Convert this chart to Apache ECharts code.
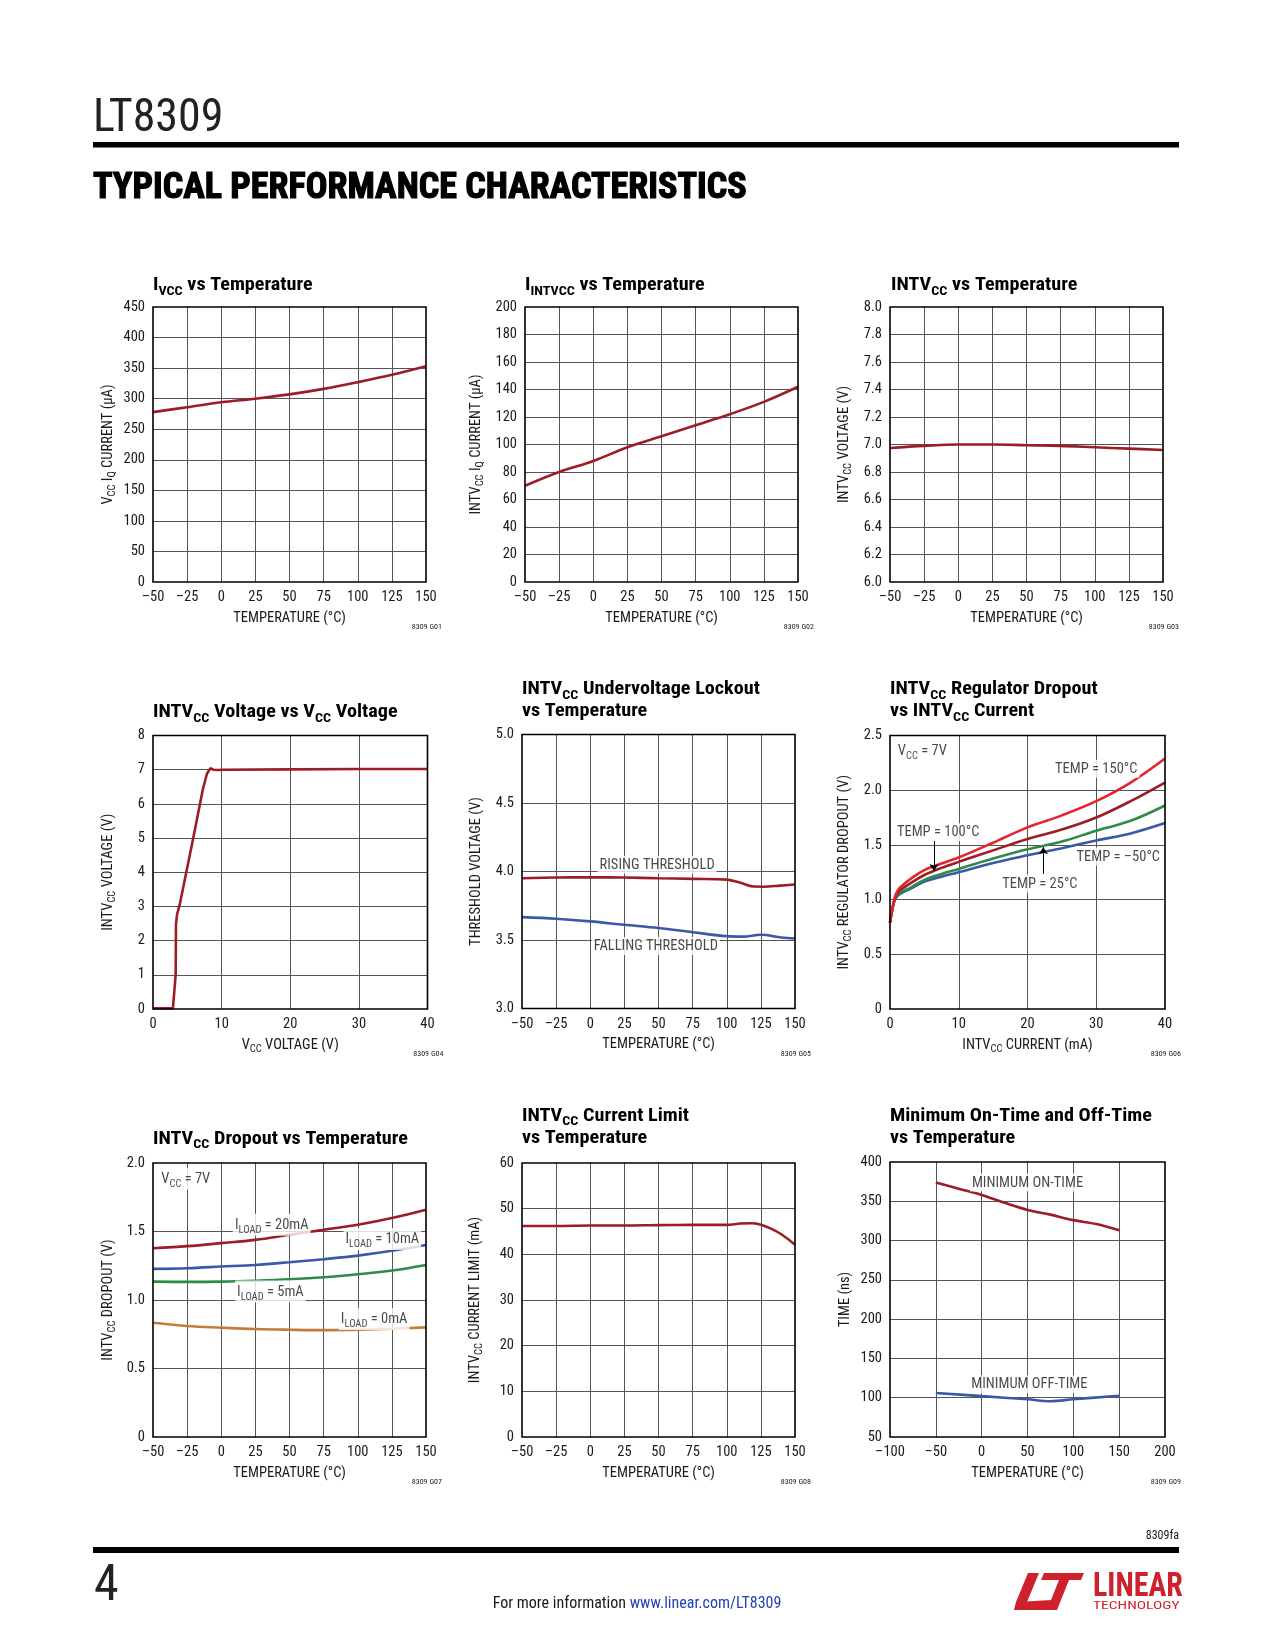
<!DOCTYPE html>
<html><head><meta charset="utf-8">
<script src="https://cdn.jsdelivr.net/npm/echarts@6/dist/echarts.min.js"></script>
<style>html,body{margin:0;padding:0;background:#fff}#c{width:1275px;height:1650px}</style>
</head><body><div id="c"></div>
<script>
// ---------------- DATA ----------------
const tempT = [-50, -25, 0, 25, 50, 75, 100, 125, 150];
const ivccUA = [278, 286, 294, 300, 307, 316, 327, 339, 353];
const iintvccUA = [70, 80, 88, 98, 106, 114, 122, 131, 142];
const intvccV = [6.975, 6.99, 7.0, 7.0, 6.995, 6.99, 6.98, 6.97, 6.96];

const vccSweepV = [0, 2.9, 3.16, 3.3, 3.35, 3.5, 3.9, 4.6, 5.58, 6.55, 7.28, 7.86, 8.35, 8.83, 9.47, 10.2, 20, 30, 40];
const intvccOutV = [0.02, 0.02, 0.07, 1.0, 2.47, 2.77, 3.06, 3.75, 4.72, 5.7, 6.44, 6.88, 7.04, 7.0, 6.99, 7.0, 7.01, 7.02, 7.02];

const uvloRiseT = [-50, -25, 0, 25, 50, 75, 100, 111, 120, 127, 139, 150];
const uvloRiseV = [3.951, 3.956, 3.958, 3.956, 3.951, 3.946, 3.941, 3.914, 3.89, 3.889, 3.897, 3.905];
const uvloFallT = [-50, -25, 0, 25, 50, 75, 100, 112, 125, 140, 150];
const uvloFallV = [3.667, 3.655, 3.636, 3.611, 3.587, 3.557, 3.528, 3.525, 3.538, 3.518, 3.511];

const loadMA = [0, 0.3, 0.7, 1.2, 2, 3, 5, 7.5, 10, 15, 20, 25, 30, 35, 40];
const dropT150 = [0.79, 0.9, 1.02, 1.09, 1.14, 1.19, 1.27, 1.33, 1.385, 1.52, 1.66, 1.77, 1.90, 2.07, 2.29];
const dropT100 = [0.79, 0.9, 1.01, 1.07, 1.11, 1.15, 1.225, 1.29, 1.345, 1.45, 1.555, 1.64, 1.75, 1.90, 2.07];
const dropT25 = [0.79, 0.9, 1.0, 1.05, 1.08, 1.11, 1.18, 1.235, 1.28, 1.375, 1.46, 1.53, 1.63, 1.72, 1.86];
const dropTm50 = [0.79, 0.9, 1.0, 1.04, 1.07, 1.10, 1.165, 1.21, 1.25, 1.335, 1.405, 1.47, 1.54, 1.605, 1.70];

const dropLoad20 = [1.378, 1.393, 1.415, 1.439, 1.476, 1.512, 1.549, 1.598, 1.659];
const dropLoad10 = [1.227, 1.232, 1.244, 1.256, 1.276, 1.298, 1.324, 1.359, 1.402];
const dropLoad5 = [1.134, 1.132, 1.134, 1.141, 1.151, 1.166, 1.188, 1.215, 1.256];
const dropLoad0 = [0.834, 0.81, 0.798, 0.788, 0.783, 0.78, 0.783, 0.79, 0.8];

const ilimT = [-50, -25, 0, 25, 50, 75, 100, 110, 118, 125, 132, 140, 150];
const ilimMA = [46.2, 46.2, 46.3, 46.3, 46.4, 46.45, 46.45, 46.75, 46.8, 46.5, 45.7, 44.4, 42.1];

const onT = [-50, -25, 0, 25, 50, 75, 100, 125, 150];
const onTimeNs = [374, 366, 358, 348, 339, 333, 326, 321, 313];
const offT = [-50, 0, 50, 75, 100, 150];
const offTimeNs = [106, 102, 98, 95.5, 98, 102.5];

// axis ranges [min, max, interval]
const axTemp = [-50, 150, 25];
const axIvcc = [0, 450, 50];
const axIintvcc = [0, 200, 20];
const axIntvcc = [6.0, 8.0, 0.2];
const axVcc = [0, 40, 10];
const axVout = [0, 8, 1];
const axUvlo = [3.0, 5.0, 0.5];
const axLoad = [0, 40, 10];
const axDrop = [0, 2.5, 0.5];
const axDropT = [0, 2.0, 0.5];
const axIlim = [0, 60, 10];
const axTempWide = [-100, 200, 50];
const axTime = [50, 400, 50];

// ---------------- STYLE ----------------
const FONT = "'Liberation Sans Narrow','Roboto Condensed','DejaVu Sans Condensed','Liberation Sans',sans-serif";
const INK = '#1a1a1a';
const C_DRED = '#9c1d25', C_BLUE = '#3a58a8', C_GREEN = '#2f8a47', C_ORANGE = '#c27c3a', C_RED = '#e3242f';

const BOX = [
  {left:153, top:307, width:273, height:275},
  {left:525, top:307, width:273, height:275},
  {left:890, top:307, width:273, height:275},
  {left:153, top:735.5, width:274.5, height:273.5},
  {left:522, top:734.5, width:273, height:274},
  {left:890, top:735.5, width:275, height:273.5},
  {left:153, top:1163, width:273, height:274},
  {left:522, top:1163, width:273, height:274},
  {left:890, top:1162, width:275, height:275}
];

const NAME_RICH = {
  n:{fontSize:14.5, fontFamily:FONT, color:INK, lineHeight:18},
  s:{fontSize:10.5, fontFamily:FONT, color:INK, padding:[8,0,0,0]}
};
const NOTE_RICH = {
  n:{fontSize:14.5, fontFamily:FONT, color:INK, lineHeight:17},
  s:{fontSize:10.5, fontFamily:FONT, color:INK, padding:[10,0,0,0]}
};

const fx = v => v < 0 ? '\u2013' + Math.abs(Math.round(v)) : String(Math.round(v));
const f0 = v => String(Math.round(v));
const f1 = v => v.toFixed(1);
const f1z = v => Math.abs(v) < 1e-9 ? '0' : v.toFixed(1);
const TEMPN = '{n|TEMPERATURE (\u00b0C)}';

const specs = [
  {x:axTemp, y:axIvcc, xf:fx, yf:f0, xn:TEMPN, yn:'{n|V}{s|CC}{n| I}{s|Q}{n| CURRENT (\u00b5A)}', yg:35},
  {x:axTemp, y:axIintvcc, xf:fx, yf:f0, xn:TEMPN, yn:'{n|INTV}{s|CC}{n| I}{s|Q}{n| CURRENT (\u00b5A)}', yg:39},
  {x:axTemp, y:axIntvcc, xf:fx, yf:f1, xn:TEMPN, yn:'{n|INTV}{s|CC}{n| VOLTAGE (V)}', yg:36},
  {x:axVcc, y:axVout, xf:fx, yf:f0, xn:'{n|V}{s|CC}{n| VOLTAGE (V)}', yn:'{n|INTV}{s|CC}{n| VOLTAGE (V)}', yg:35},
  {x:axTemp, y:axUvlo, xf:fx, yf:f1, xn:TEMPN, yn:'{n|THRESHOLD VOLTAGE (V)}', yg:37},
  {x:axLoad, y:axDrop, xf:fx, yf:f1z, xn:'{n|INTV}{s|CC}{n| CURRENT (mA)}', yn:'{n|INTV}{s|CC}{n| REGULATOR DROPOUT (V)}', yg:36},
  {x:axTemp, y:axDropT, xf:fx, yf:f1z, xn:TEMPN, yn:'{n|INTV}{s|CC}{n| DROPOUT (V)}', yg:35},
  {x:axTemp, y:axIlim, xf:fx, yf:f0, xn:TEMPN, yn:'{n|INTV}{s|CC}{n| CURRENT LIMIT (mA)}', yg:37},
  {x:axTempWide, y:axTime, xf:fx, yf:f0, xn:TEMPN, yn:'{n|TIME (ns)}', yg:36}
];

function axis(i, r, fmt, name, gap, isX){
  return {gridIndex:i, type:'value', min:r[0], max:r[1], interval:r[2],
    axisLine:{show:false}, axisTick:{show:false},
    axisLabel:{show:true, fontSize:14.5, fontFamily:FONT, color:INK, margin:isX?8:8, formatter:fmt, hideOverlap:false},
    splitLine:{show:true, showMinLine:false, showMaxLine:false, lineStyle:{color:'#555', width:1}},
    name:name, nameLocation:'middle', nameGap:gap, nameTextStyle:{rich:NAME_RICH, color:INK}};
}

const grid = [], xAxis = [], yAxis = [], series = [];
specs.forEach((s, i) => {
  grid.push(Object.assign({show:true, borderColor:'#000', borderWidth:1.6, backgroundColor:'transparent', containLabel:false, outerBoundsMode:'none', z:3}, BOX[i]));
  xAxis.push(axis(i, s.x, s.xf, s.xn, 27, true));
  yAxis.push(axis(i, s.y, s.yf, s.yn, s.yg, false));
});

const pts = (xs, ys) => xs.map((x, k) => [x, ys[k]]);
function line(i, xs, ys, color, smooth){
  const o = {type:'line', xAxisIndex:i, yAxisIndex:i, data:pts(xs, ys), showSymbol:false, symbol:'none',
    smooth:smooth === undefined ? 0.35 : smooth, lineStyle:{color:color, width:2.6}, silent:true, z:2};
  series.push(o); return o;
}
function note(i, x, y, text, bg){
  series.push({type:'scatter', xAxisIndex:i, yAxisIndex:i, data:[[x, y]], symbolSize:1, silent:true, z:6,
    itemStyle:{color:'rgba(0,0,0,0)'},
    label:{show:true, position:'inside', formatter:text, rich:NOTE_RICH, color:INK,
      backgroundColor: bg === false ? 'transparent' : '#fff', padding:[1,2,0,2]}});
}

line(0, tempT, ivccUA, C_DRED);
line(1, tempT, iintvccUA, C_DRED);
line(2, tempT, intvccV, C_DRED);
line(3, vccSweepV, intvccOutV, C_DRED, false);
line(4, uvloRiseT, uvloRiseV, C_DRED);
line(4, uvloFallT, uvloFallV, C_BLUE);
note(4, 49, 4.05, '{n|RISING THRESHOLD}');
note(4, 48, 3.456, '{n|FALLING THRESHOLD}');
line(5, loadMA, dropTm50, C_BLUE);
line(5, loadMA, dropT25, C_GREEN);
line(5, loadMA, dropT100, C_DRED);
const s150 = line(5, loadMA, dropT150, C_RED);
s150.markLine = {silent:true, symbol:['none','arrow'], symbolSize:7, animation:false,
  lineStyle:{color:'#000', width:1, type:'solid'}, label:{show:false},
  data:[[{coord:[6.4, 1.55]}, {coord:[6.4, 1.262]}], [{coord:[22.3, 1.235]}, {coord:[22.3, 1.478]}]]};
note(5, 4.7, 2.36, '{n|V}{s|CC}{n| = 7V}', false);
note(5, 30, 2.196, '{n|TEMP = 150\u00b0C}');
note(5, 7.0, 1.615, '{n|TEMP = 100\u00b0C}');
note(5, 21.8, 1.148, '{n|TEMP = 25\u00b0C}');
note(5, 33.2, 1.395, '{n|TEMP = \u201350\u00b0C}');
line(6, tempT, dropLoad20, C_DRED);
line(6, tempT, dropLoad10, C_BLUE);
line(6, tempT, dropLoad5, C_GREEN);
line(6, tempT, dropLoad0, C_ORANGE);
note(6, -26, 1.885, '{n|V}{s|CC}{n| = 7V}');
note(6, 37, 1.55, '{n|I}{s|LOAD}{n| = 20mA}');
note(6, 118, 1.446, '{n|I}{s|LOAD}{n| = 10mA}');
note(6, 36, 1.062, '{n|I}{s|LOAD}{n| = 5mA}');
note(6, 112, 0.861, '{n|I}{s|LOAD}{n| = 0mA}');
line(7, ilimT, ilimMA, C_DRED);
line(8, onT, onTimeNs, C_DRED);
line(8, offT, offTimeNs, C_BLUE);
note(8, 50, 374, '{n|MINIMUM ON-TIME}');
note(8, 52, 117, '{n|MINIMUM OFF-TIME}');

// ---------------- PAGE TEXT ----------------
const G = [];
function T(x, y, text, st, sx){
  G.push({type:'text', x:x, y:y, silent:true, z:10, scaleX:sx || 1,
    style:Object.assign({text:text, fill:INK, fontFamily:FONT, fontSize:14, textAlign:'left', textVerticalAlign:'middle', align:'left', verticalAlign:'middle'}, st || {})});
}
const TR = {
  t:{fontSize:18.5, fontWeight:'bold', fontFamily:FONT, fill:'#000', color:'#000', lineHeight:22},
  s:{fontSize:13, fontWeight:'bold', fontFamily:FONT, fill:'#000', color:'#000', padding:[12,0,0,0]}
};
const TS = {rich:TR};
const TSX = 1.09;
T(153, 285.5, '{t|I}{s|VCC}{t| vs Temperature}', TS, TSX);
T(525, 285.5, '{t|I}{s|INTVCC}{t| vs Temperature}', TS, TSX);
T(891, 285.5, '{t|INTV}{s|CC}{t| vs Temperature}', TS, TSX);
T(153, 712.5, '{t|INTV}{s|CC}{t| Voltage vs V}{s|CC}{t| Voltage}', TS, TSX);
T(522, 689.5, '{t|INTV}{s|CC}{t| Undervoltage Lockout}', TS, TSX);
T(522, 711.5, '{t|vs Temperature}', TS, TSX);
T(890, 689.5, '{t|INTV}{s|CC}{t| Regulator Dropout}', TS, TSX);
T(890, 711.5, '{t|vs INTV}{s|CC}{t| Current}', TS, TSX);
T(153, 1139, '{t|INTV}{s|CC}{t| Dropout vs Temperature}', TS, TSX);
T(522, 1116, '{t|INTV}{s|CC}{t| Current Limit}', TS, TSX);
T(522, 1138, '{t|vs Temperature}', TS, TSX);
T(890, 1116, '{t|Minimum On-Time and Off-Time}', TS, TSX);
T(890, 1138, '{t|vs Temperature}', TS, TSX);

// figure codes
const codeSt = {fontSize:8, textAlign:'right', align:'right'};
BOX.forEach((b, i) => T(b.left + b.width + 16, b.top + b.height + 45, '8309 G0' + (i + 1), codeSt));

// header
T(93, 119.5, 'LT8309', {fontSize:46, fill:'#222'});
G.push({type:'rect', silent:true, shape:{x:93, y:142, width:1086, height:5.5}, style:{fill:'#000'}});
T(93, 189, 'TYPICAL PERFORMANCE CHARACTERISTICS', {fontSize:37, fontWeight:'bold', fill:'#000', stroke:'#000', lineWidth:1.2}, 0.975);

// footer
T(1179, 1536, '8309fa', {fontSize:12, textAlign:'right', align:'right'});
G.push({type:'rect', silent:true, shape:{x:93, y:1547, width:1086, height:6}, style:{fill:'#000'}});
T(94, 1587, '4', {fontSize:50, fill:'#222'});
T(637, 1604, '{a|For more information }{b|www.linear.com/LT8309}', {textAlign:'center', align:'center',
  rich:{a:{fontSize:16, fontFamily:FONT, fill:INK, color:INK}, b:{fontSize:16, fontFamily:FONT, fill:'#2341b8', color:'#2341b8'}}});
// logo
const LOGO = '#cf202d';
G.push({type:'group', x:1014, y:1573, silent:true, children:[
  {type:'polygon', shape:{points:[[14,0],[25,0],[13,29],[2,29]]}, style:{fill:LOGO}},
  {type:'polygon', shape:{points:[[2,29],[38,27],[34,37],[0,37]]}, style:{fill:LOGO}},
  {type:'polygon', shape:{points:[[30,0],[70,0],[67,7],[27,7]]}, style:{fill:LOGO}},
  {type:'polygon', shape:{points:[[45,7],[55,7],[43,37],[33,37]]}, style:{fill:LOGO}}
]});
T(1093, 1587, 'LINEAR', {fontSize:34, fontWeight:'bold', fill:LOGO}, 0.88);
T(1093, 1606, 'TECHNOLOGY', {fontSize:10, fill:LOGO}, 1.55);

const chart = echarts.init(document.getElementById('c'), null, {renderer:'canvas'});
chart.setOption({animation:false, backgroundColor:'#fff', grid:grid, xAxis:xAxis, yAxis:yAxis, series:series, graphic:{elements:G}});
</script>
</body></html>
